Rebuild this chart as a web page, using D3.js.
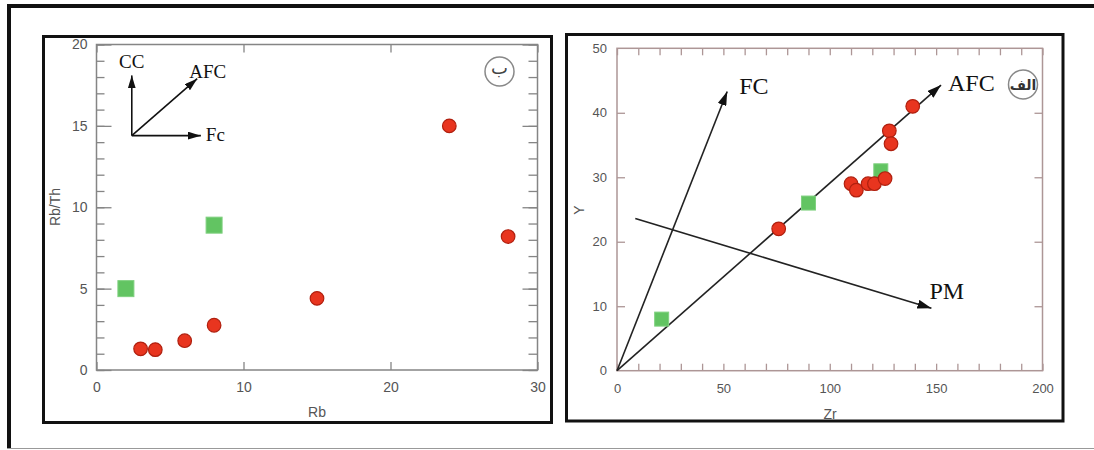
<!DOCTYPE html>
<html>
<head>
<meta charset="utf-8">
<script src="https://cdn.jsdelivr.net/npm/d3@7/dist/d3.min.js"></script>
<style>
html,body{margin:0;padding:0;background:#fff;}
svg{display:block;}
</style>
</head>
<body>
<svg id="chart" width="1094" height="450"></svg>
<script>
// ---------- DATA ----------
// Left panel (ب): Rb vs Rb/Th
const leftRedRb   = [3, 4, 6, 8, 15, 24, 28];
const leftRedRbTh = [1.3, 1.25, 1.8, 2.75, 4.4, 15, 8.2];
const leftGreenRb   = [2, 8];
const leftGreenRbTh = [5, 8.9];
const leftXTicks = [0, 10, 20, 30];
const leftYTicks = [0, 5, 10, 15, 20];
const leftArrowLabels = ["CC", "AFC", "Fc"];
const leftArrowFrom = [[2.4, 14.4], [2.4, 14.4], [2.4, 14.4]];
const leftArrowTo   = [[2.4, 18.1], [6.85, 17.9], [7.1, 14.4]];

// Right panel (الف): Zr vs Y
const rightRedZr = [76, 110, 112.5, 118, 121, 126, 128, 128.8, 139];
const rightRedY  = [22, 29, 28, 29, 29, 29.8, 37.2, 35.2, 41];
const rightGreenZr = [21, 90, 124];
const rightGreenY  = [8, 26, 31];
const rightXTicks = [0, 50, 100, 150, 200];
const rightYTicks = [0, 10, 20, 30, 40, 50];
const rightArrowLabels = ["FC", "AFC", "PM"];
const rightArrowFrom = [[0, 0], [0, 0], [8.6, 23.6]];
const rightArrowTo   = [[51.8, 43.3], [152.3, 44.3], [147.8, 9.7]];

// ---------- DRAW ----------
const svg = d3.select("#chart");
const defs = svg.append("defs");
function addMarker(id, len, wid){
  defs.append("marker").attr("id", id)
    .attr("viewBox", `0 0 ${len} ${wid}`)
    .attr("refX", len).attr("refY", wid/2)
    .attr("markerWidth", len).attr("markerHeight", wid)
    .attr("markerUnits", "userSpaceOnUse")
    .attr("orient", "auto")
    .append("path").attr("d", `M0,0L${len},${wid/2}L0,${wid}Z`).attr("fill", "#111");
}
addMarker("headL", 13, 8);
addMarker("headR", 14, 9);

// outer frame
svg.append("line").attr("x1", 7).attr("x2", 1094).attr("y1", 6).attr("y2", 6).attr("stroke", "#111").attr("stroke-width", 4);
svg.append("line").attr("x1", 9).attr("x2", 9).attr("y1", 4).attr("y2", 449).attr("stroke", "#111").attr("stroke-width", 4);
svg.append("line").attr("x1", 7).attr("x2", 1094).attr("y1", 448.5).attr("y2", 448.5).attr("stroke", "#999").attr("stroke-width", 1);

const tickFont = "'Liberation Sans', Arial, sans-serif";
const serifFont = "'Liberation Serif', 'Times New Roman', serif";

function styleAxis(g, color, fsize){
  g.select(".domain").remove();
  g.selectAll(".tick line").attr("stroke", color).attr("stroke-width", 1.3);
  g.selectAll(".tick text").attr("fill", "#555").attr("font-family", tickFont).attr("font-size", fsize);
}

function drawMarkers(g, xs, ys, gxs, gys, x, y, r, sq){
  const red = xs.map((v,i)=>({x:v, y:ys[i]}));
  const green = gxs.map((v,i)=>({x:v, y:gys[i]}));
  g.selectAll("rect.gm").data(green).join("rect").attr("class","gm")
    .attr("x", d=>x(d.x)-sq/2).attr("y", d=>y(d.y)-sq/2)
    .attr("width", sq).attr("height", sq)
    .attr("fill", "#62c462").attr("stroke", "#7fd07f").attr("stroke-width", 1);
  g.selectAll("circle.rm").data(red).join("circle").attr("class","rm")
    .attr("cx", d=>x(d.x)).attr("cy", d=>y(d.y)).attr("r", r)
    .attr("fill", "#e8351f").attr("stroke", "#b0200f").attr("stroke-width", 1.2);
}

// ===== LEFT PANEL =====
{
  const x = d3.scaleLinear().domain([0, 30]).range([96.5, 537.5]);
  const y = d3.scaleLinear().domain([0, 20]).range([370, 44.5]);
  const g = svg.append("g");
  const axCol = "#858585";
  const minor = d3.range(0, 21, 1);

  g.append("g").attr("transform", `translate(${x(0)},0)`)
    .call(d3.axisLeft(y).tickValues(minor).tickSize(-8).tickFormat(""))
    .call(a=>styleAxis(a, axCol, 14));
  g.append("g").attr("transform", `translate(${x(30)},0)`)
    .call(d3.axisRight(y).tickValues(minor).tickSize(-9).tickFormat(""))
    .call(a=>styleAxis(a, axCol, 14));
  g.append("g").attr("transform", `translate(${x(0)},0)`)
    .call(d3.axisLeft(y).tickValues(leftYTicks).tickSize(-15).tickPadding(9).tickFormat(d3.format("d")))
    .call(a=>styleAxis(a, axCol, 14));
  g.append("g").attr("transform", `translate(${x(30)},0)`)
    .call(d3.axisRight(y).tickValues(leftYTicks).tickSize(-15).tickFormat(""))
    .call(a=>styleAxis(a, axCol, 14));
  g.append("g").attr("transform", `translate(0,${y(0)})`)
    .call(d3.axisBottom(x).tickValues(leftXTicks).tickSize(-8).tickPadding(12).tickFormat(d3.format("d")))
    .call(a=>styleAxis(a, axCol, 14));
  g.append("g").attr("transform", `translate(0,${y(20)})`)
    .call(d3.axisTop(x).tickValues(leftXTicks).tickSize(-8).tickFormat(""))
    .call(a=>styleAxis(a, axCol, 14));
  g.append("rect").attr("x", x(0)).attr("y", y(20)).attr("width", x(30)-x(0)).attr("height", y(0)-y(20))
    .attr("fill", "none").attr("stroke", axCol).attr("stroke-width", 1.5);

  g.append("text").attr("x", 317).attr("y", 417).attr("text-anchor", "middle")
    .attr("font-family", tickFont).attr("font-size", 14).attr("fill", "#555").text("Rb");
  g.append("text").attr("transform", "translate(60,207) rotate(-90)").attr("text-anchor", "middle")
    .attr("font-family", tickFont).attr("font-size", 14).attr("fill", "#555").text("Rb/Th");

  leftArrowFrom.forEach((f,i)=>{
    g.append("line").attr("x1", x(f[0])).attr("y1", y(f[1]))
      .attr("x2", x(leftArrowTo[i][0])).attr("y2", y(leftArrowTo[i][1]))
      .attr("stroke", "#111").attr("stroke-width", 1.6).attr("marker-end", "url(#headL)");
  });
  const lOff = [[0, -7, "middle"], [-8, -1, "start"], [5, 5, "start"]];
  leftArrowLabels.forEach((t,i)=>{
    g.append("text").attr("x", x(leftArrowTo[i][0]) + lOff[i][0]).attr("y", y(leftArrowTo[i][1]) + lOff[i][1])
      .attr("text-anchor", lOff[i][2]).attr("font-family", serifFont).attr("font-size", 19).attr("fill", "#111").text(t);
  });

  drawMarkers(g, leftRedRb, leftRedRbTh, leftGreenRb, leftGreenRbTh, x, y, 6.8, 16);

  g.append("circle").attr("cx", 499.5).attr("cy", 71.5).attr("r", 14.5).attr("fill", "none").attr("stroke", "#888").attr("stroke-width", 1.5);
  g.append("text").attr("x", 499.5).attr("y", 74).attr("text-anchor", "middle")
    .attr("font-family", "'DejaVu Sans', sans-serif").attr("font-size", 18).attr("fill", "#444").text("ب");

  g.append("rect").attr("x", 43.5).attr("y", 36.5).attr("width", 508).attr("height", 386)
    .attr("fill", "none").attr("stroke", "#111").attr("stroke-width", 3);
}

// ===== RIGHT PANEL =====
{
  const x = d3.scaleLinear().domain([0, 200]).range([617, 1042.5]);
  const y = d3.scaleLinear().domain([0, 50]).range([370.7, 48.3]);
  const g = svg.append("g");
  const axCol = "#ad9696";
  const xMinor = d3.range(0, 201, 10);
  const yInner = [10, 20, 30, 40];

  g.append("g").attr("transform", `translate(0,${y(0)})`)
    .call(d3.axisBottom(x).tickValues(xMinor).tickSize(-7).tickFormat(""))
    .call(a=>styleAxis(a, axCol, 13));
  g.append("g").attr("transform", `translate(0,${y(0)})`)
    .call(d3.axisBottom(x).tickValues(rightXTicks).tickSize(0).tickPadding(13).tickFormat(d3.format("d")))
    .call(a=>styleAxis(a, axCol, 13));
  g.append("g").attr("transform", `translate(0,${y(50)})`)
    .call(d3.axisTop(x).tickValues(xMinor).tickSize(-7).tickFormat(""))
    .call(a=>styleAxis(a, axCol, 13));
  g.append("g").attr("transform", `translate(${x(0)},0)`)
    .call(d3.axisLeft(y).tickValues(yInner).tickSize(-8).tickFormat(""))
    .call(a=>styleAxis(a, axCol, 13));
  g.append("g").attr("transform", `translate(${x(0)},0)`)
    .call(d3.axisLeft(y).tickValues(rightYTicks).tickSize(0).tickPadding(10).tickFormat(d3.format("d")))
    .call(a=>styleAxis(a, axCol, 13));
  g.append("g").attr("transform", `translate(${x(200)},0)`)
    .call(d3.axisRight(y).tickValues(yInner).tickSize(-8).tickFormat(""))
    .call(a=>styleAxis(a, axCol, 13));
  g.append("rect").attr("x", x(0)).attr("y", y(50)).attr("width", x(200)-x(0)).attr("height", y(0)-y(50))
    .attr("fill", "none").attr("stroke", axCol).attr("stroke-width", 1.5);

  g.append("text").attr("x", 830).attr("y", 419).attr("text-anchor", "middle")
    .attr("font-family", tickFont).attr("font-size", 14).attr("fill", "#555").text("Zr");
  g.append("text").attr("transform", "translate(584,210) rotate(-90)").attr("text-anchor", "middle")
    .attr("font-family", tickFont).attr("font-size", 14).attr("fill", "#555").text("Y");

  rightArrowFrom.forEach((f,i)=>{
    g.append("line").attr("x1", x(f[0])).attr("y1", y(f[1]))
      .attr("x2", x(rightArrowTo[i][0])).attr("y2", y(rightArrowTo[i][1]))
      .attr("stroke", "#222").attr("stroke-width", 1.6).attr("marker-end", "url(#headR)");
  });
  const rOff = [[12, 2], [7, 6], [-2, -9]];
  rightArrowLabels.forEach((t,i)=>{
    g.append("text").attr("x", x(rightArrowTo[i][0]) + rOff[i][0]).attr("y", y(rightArrowTo[i][1]) + rOff[i][1])
      .attr("font-family", serifFont).attr("font-size", 24).attr("fill", "#111").text(t);
  });

  drawMarkers(g, rightRedZr, rightRedY, rightGreenZr, rightGreenY, x, y, 6.8, 14);

  g.append("circle").attr("cx", 1023).attr("cy", 84.5).attr("r", 14.5).attr("fill", "none").attr("stroke", "#888").attr("stroke-width", 1.5);
  g.append("text").attr("x", 1023).attr("y", 90).attr("text-anchor", "middle")
    .attr("font-family", "'DejaVu Sans', sans-serif").attr("font-size", 14).attr("font-weight", "bold").attr("fill", "#333").text("الف");

  g.append("rect").attr("x", 566.5).attr("y", 34.5).attr("width", 496.5).attr("height", 386.5)
    .attr("fill", "none").attr("stroke", "#111").attr("stroke-width", 3);
}
</script>
</body>
</html>
